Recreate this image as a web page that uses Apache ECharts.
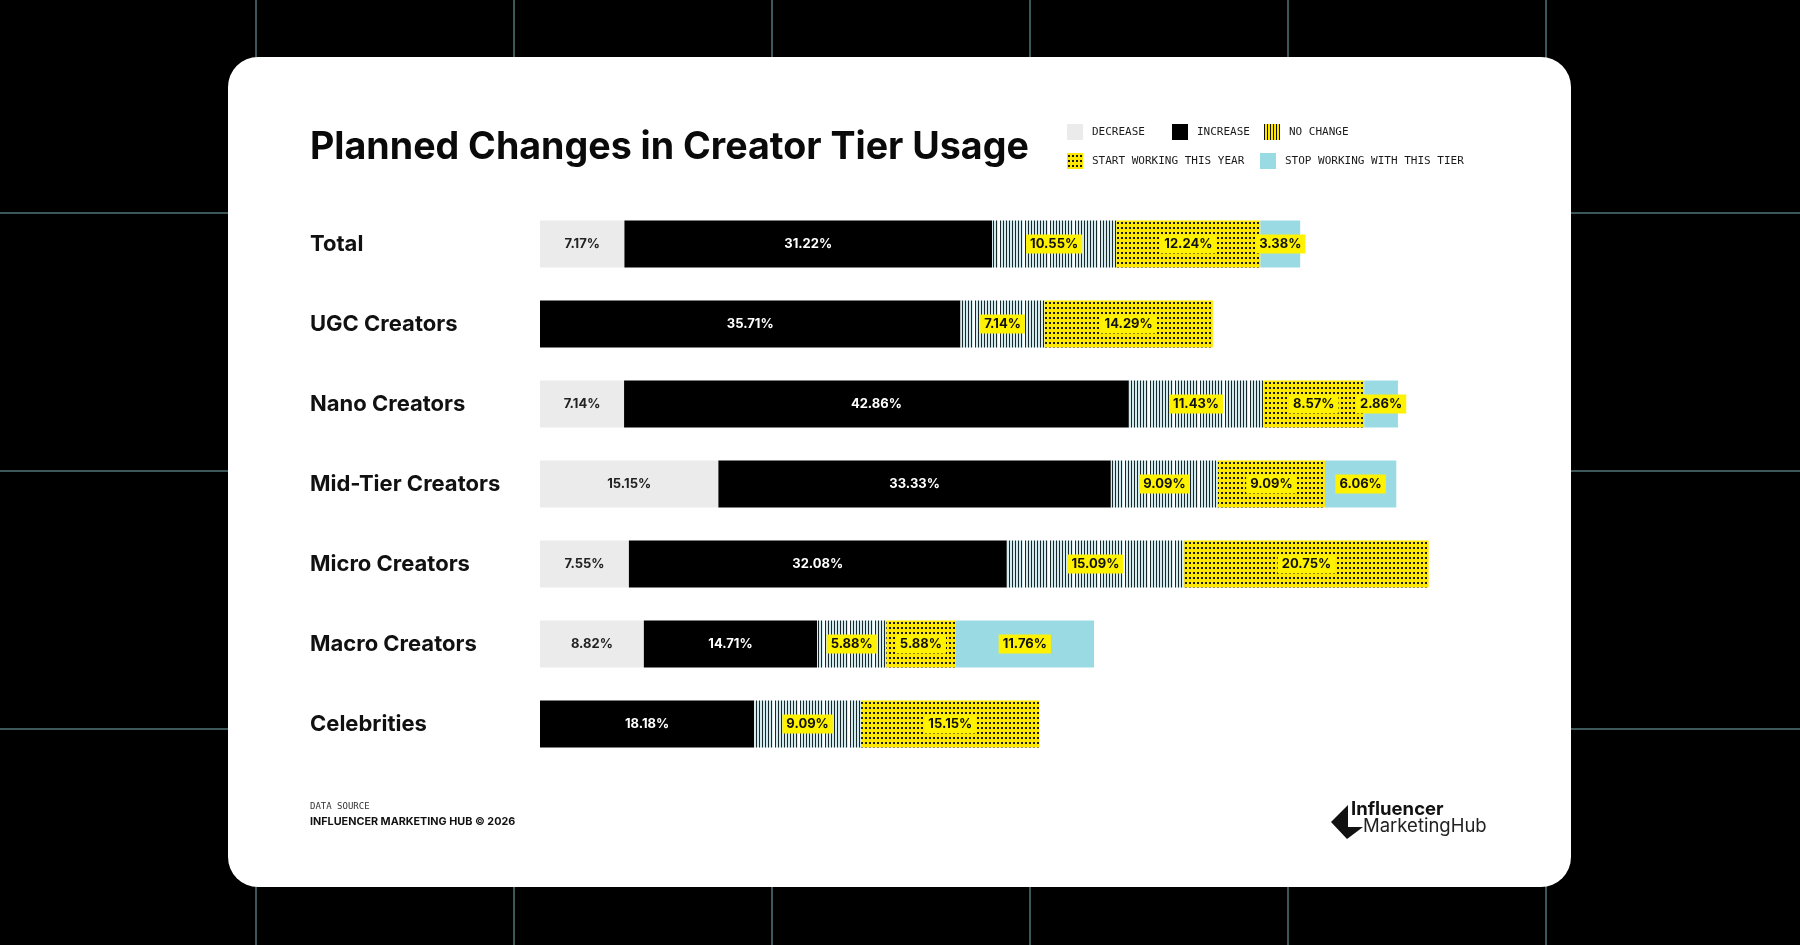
<!DOCTYPE html>
<html>
<head>
<meta charset="utf-8">
<script src="https://cdn.jsdelivr.net/npm/echarts@6/dist/echarts.min.js"></script>
<style>
  html, body { margin: 0; background: #000; }
  #chart { width: 1800px; height: 945px; }
</style>
</head>
<body>
<div id="chart"></div>
<script>
// chart values
const tiers = ['Total', 'UGC Creators', 'Nano Creators', 'Mid-Tier Creators', 'Micro Creators', 'Macro Creators', 'Celebrities'];
const decrease = [7.17, 0, 7.14, 15.15, 7.55, 8.82, 0];
const increase = [31.22, 35.71, 42.86, 33.33, 32.08, 14.71, 18.18];
const noChange = [10.55, 7.14, 11.43, 9.09, 15.09, 5.88, 9.09];
const startWorking = [12.24, 14.29, 8.57, 9.09, 20.75, 5.88, 15.15];
const stopWorking = [3.38, 0, 2.86, 6.06, 0, 11.76, 0];
const seriesNames = ['DECREASE', 'INCREASE', 'NO CHANGE', 'START WORKING THIS YEAR', 'STOP WORKING WITH THIS TIER'];

const SANS = 'Inter, "Noto Sans", sans-serif';
const MONO = '"DejaVu Sans Mono", monospace';

// little canvas tiles for the hatched fills
function tile(w, h, draw) {
  const c = document.createElement('canvas');
  c.width = w; c.height = h;
  draw(c.getContext('2d'));
  return { image: c, repeat: 'repeat' };
}
const dots = tile(4, 5, g => {
  g.fillStyle = '#ffe800'; g.fillRect(0, 0, 4, 5);
  g.fillStyle = '#1b1b0a'; g.fillRect(1, 2, 2, 2);
});
const stripes = tile(25, 4, g => {
  g.fillStyle = '#d3eaee'; g.fillRect(0, 0, 25, 4);
  g.fillStyle = '#1a282c';
  [0, 3, 6, 9, 12, 15, 18, 21].forEach(x => g.fillRect(x, 0, 1, 4));
  g.fillStyle = '#ffffff'; g.fillRect(23, 0, 2, 4);
});
const legendStripes = tile(3, 4, g => {
  g.fillStyle = '#ffe800'; g.fillRect(0, 0, 3, 4);
  g.fillStyle = '#111'; g.fillRect(0, 0, 1, 4);
});

const fmt = p => (p.value ? p.value.toFixed(2) + '%' : '');
const plain = color => ({
  show: true, position: 'inside', formatter: fmt,
  color, fontFamily: SANS, fontWeight: 'bold', fontSize: 13
});
const boxed = () => ({
  show: true, position: 'inside', formatter: fmt,
  color: '#111', fontFamily: SANS, fontWeight: 'bold', fontSize: 13,
  backgroundColor: '#fff200', padding: [3, 4]
});

function bar(name, values, color, label) {
  return {
    name, type: 'bar', stack: 'all', barWidth: 47,
    data: values.map(v => (v ? v : null)),
    itemStyle: { color },
    label,
    emphasis: { disabled: true }
  };
}

const legendItems = [
  { name: seriesNames[0], left: 1067, top: 124 },
  { name: seriesNames[1], left: 1172, top: 124 },
  { name: seriesNames[2], left: 1264, top: 124, itemStyle: { color: legendStripes } },
  { name: seriesNames[3], left: 1067, top: 153 },
  { name: seriesNames[4], left: 1260, top: 153 }
];

const vLines = [256, 514, 772, 1030, 1288, 1546];
const hLines = [213, 471, 729];

const chart = echarts.init(document.getElementById('chart'));
chart.setOption({
  backgroundColor: '#000',
  animation: false,
  title: {
    text: 'Planned Changes in Creator Tier Usage',
    left: 310, top: 129, padding: 0,
    textStyle: { fontFamily: SANS, fontWeight: 'bold', fontSize: 37.6, color: '#0a0a0a' }
  },
  legend: legendItems.map(it => ({
    data: [it.itemStyle ? { name: it.name, itemStyle: it.itemStyle } : it.name],
    left: it.left, top: it.top, padding: 0,
    icon: 'rect', itemWidth: 16, itemHeight: 16,
    selectedMode: false,
    textStyle: { fontFamily: MONO, fontSize: 11, color: '#1a1a1a', padding: [0, 0, 0, 4] }
  })),
  grid: { left: 540, top: 204, width: 942, height: 560 },
  xAxis: { type: 'value', min: 0, max: 80, show: false },
  yAxis: {
    type: 'category', data: tiers, inverse: true,
    axisLine: { show: false }, axisTick: { show: false },
    axisLabel: {
      align: 'left', margin: 230, padding: [5, 0, 0, 0],
      fontFamily: SANS, fontWeight: 'bold', fontSize: 22, color: '#111'
    }
  },
  series: [
    bar(seriesNames[0], decrease, '#ebebeb', plain('#222')),
    bar(seriesNames[1], increase, '#000000', plain('#ffffff')),
    bar(seriesNames[2], noChange, stripes, boxed()),
    bar(seriesNames[3], startWorking, dots, boxed()),
    bar(seriesNames[4], stopWorking, '#9adbe3', boxed())
  ],
  graphic: [
    ...vLines.map(x => ({
      type: 'line', z: -10, silent: true,
      shape: { x1: x, y1: 0, x2: x, y2: 945 },
      style: { stroke: '#4f7479', lineWidth: 1.5 }
    })),
    ...hLines.map(y => ({
      type: 'line', z: -10, silent: true,
      shape: { x1: 0, y1: y, x2: 1800, y2: y },
      style: { stroke: '#4f7479', lineWidth: 1.5 }
    })),
    {
      type: 'rect', z: -5, silent: true,
      shape: { x: 228, y: 57, width: 1343, height: 830, r: 30 },
      style: { fill: '#ffffff' }
    },
    {
      type: 'text', left: 310, top: 802,
      style: { text: 'DATA SOURCE', font: '9px ' + MONO, fill: '#333' }
    },
    {
      type: 'text', left: 310, top: 816,
      style: { text: 'INFLUENCER MARKETING HUB © 2026', font: 'bold 10.8px ' + SANS, fill: '#111' }
    },
    // logo
    {
      type: 'polygon', silent: true,
      shape: { points: [[1331, 822], [1348, 805], [1348, 827], [1363, 827], [1347, 839]] },
      style: { fill: '#111' }
    },
    {
      type: 'text', left: 1351, top: 800,
      style: { text: 'Influencer', font: 'bold 18.5px ' + SANS, fill: '#111' }
    },
    {
      type: 'text', left: 1363, top: 817,
      style: { text: 'MarketingHub', font: '18.5px ' + SANS, fill: '#222' }
    }
  ]
});
</script>
</body>
</html>
